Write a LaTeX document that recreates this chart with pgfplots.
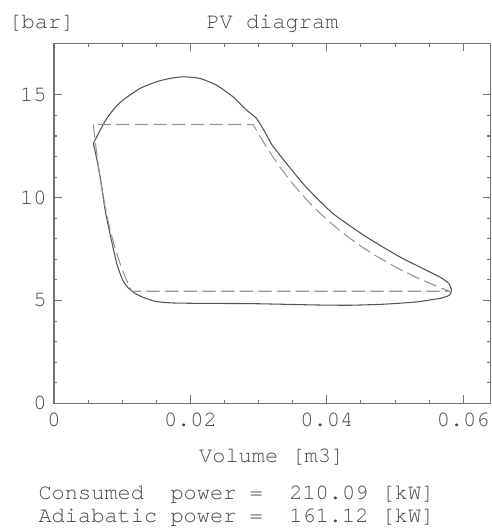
\documentclass[border=0pt]{standalone}
\usepackage{fontspec}
\setmainfont{TeX Gyre Cursor}
\usepackage{pgfplots}
\pgfplotsset{compat=1.18}
\definecolor{boxgray}{RGB}{115,115,115}
\definecolor{realline}{RGB}{85,85,85}
\definecolor{idealline}{RGB}{150,150,150}
\definecolor{txtgray}{RGB}{70,70,70}

\begin{document}
\begin{tikzpicture}
\begin{axis}[
  scale only axis, width=327.4pt, height=269.9pt,
  xmin=0, xmax=0.064, ymin=0, ymax=17.5,
  scaled x ticks=false, scaled y ticks=false,
  xtick={0,0.02,0.04,0.06}, xticklabels={0,0.02,0.04,0.06},
  ytick={0,5,10,15}, yticklabels={0,5,10,15},
  minor x tick num=3, minor y tick num=4,
  major tick length=6pt, minor tick length=2.6pt,
  axis line style={boxgray, line width=0.8pt},
  every tick/.style={boxgray, line width=0.8pt},
  tick label style={font=\fontsize{16.5}{18}\selectfont, text=txtgray},
  xticklabel style={yshift=-3.5pt},
  yticklabel style={xshift=-2pt},
  clip=false,
]
% real cycle
\addplot[color=realline, line width=0.8pt, smooth, tension=0.35] coordinates {
  (0.00576,12.63) (0.0068,13.30) (0.00772,13.85) (0.0090,14.40) (0.01015,14.76)
  (0.0126,15.31) (0.01505,15.64) (0.0170,15.80) (0.01895,15.88) (0.0214,15.80)
  (0.02384,15.47) (0.02627,14.90) (0.02823,14.26) (0.0297,13.85) (0.0310,13.15)
  (0.0320,12.55) (0.0346,11.45) (0.0370,10.50) (0.0409,9.23) (0.0458,8.09)
  (0.0507,7.12) (0.0546,6.47) (0.0568,6.10) (0.0579,5.82) (0.05827,5.50)
  (0.0580,5.27) (0.0568,5.12) (0.0531,4.93) (0.0483,4.82) (0.0434,4.77)
  (0.0390,4.78) (0.0360,4.80) (0.0287,4.85) (0.0220,4.86) (0.0175,4.88)
  (0.0150,4.95) (0.0131,5.15) (0.0117,5.38) (0.01065,5.70) (0.0100,6.05)
  (0.0092,6.80) (0.0082,8.26) (0.0075,9.39) (0.0070,10.53) (0.0065,11.50)
  (0.0060,12.31) (0.00576,12.63)
};
% adiabatic cycle
\addplot[color=idealline, line width=0.8pt, dash pattern=on 10pt off 4pt] coordinates {
  (0.00576,13.56) (0.0060,12.84) (0.0065,11.55) (0.0070,10.46) (0.0075,9.55)
  (0.0080,8.76) (0.0085,8.08) (0.0090,7.49) (0.0095,6.97) (0.0100,6.51)
  (0.0105,6.10) (0.0110,5.73) (0.0114,5.45) (0.0580,5.45) (0.0560,5.71)
  (0.0530,6.14) (0.0500,6.64) (0.0470,7.21) (0.0450,7.64) (0.0425,8.24)
  (0.0400,8.93) (0.0375,9.73) (0.0350,10.67) (0.0330,11.54) (0.0310,12.54)
  (0.0292,13.56) (0.00576,13.56)
};
\end{axis}
\begin{scope}[every node/.style={font=\fontsize{16.5}{18}\selectfont, text=txtgray, inner sep=0pt}]
\node[anchor=base] at (163.9pt,281.25pt) {PV diagram};
\node[anchor=base west] at (-34.3pt,281.25pt) {[bar]};
\node[anchor=base] at (163.3pt,-44pt) {Volume [m3]};
\node[anchor=base west] at (-11.8pt,-72.2pt) {Consumed\ \ power =\ \ 210.09 [kW]};
\node[anchor=base west] at (-11.8pt,-89pt) {Adiabatic power =\ \ 161.12 [kW]};
\end{scope}
\pgfresetboundingbox
\useasboundingbox (-40.5pt,-93.5pt) rectangle (328.5pt,302.5pt);
\end{tikzpicture}
\end{document}
